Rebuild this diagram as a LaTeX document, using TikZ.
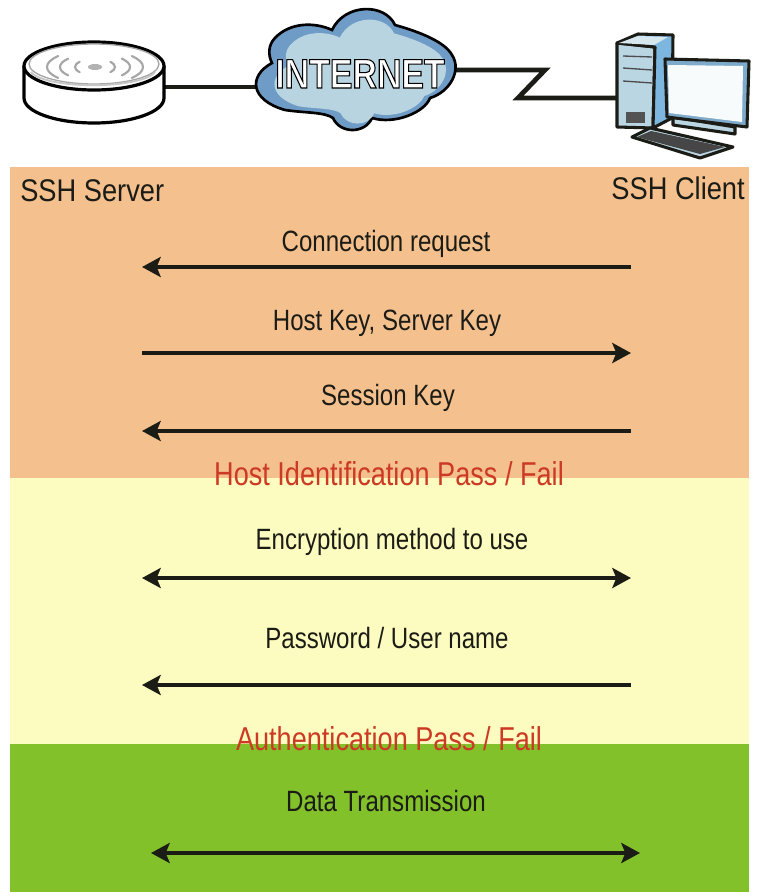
\documentclass[tikz,border=0pt]{standalone}
\usepackage{fontspec}
\setmainfont[FakeStretch=0.82]{Liberation Sans}
\newfontfamily\headfont[FakeStretch=0.87]{Liberation Sans}
\usetikzlibrary{arrows.meta}
\definecolor{bandorange}{HTML}{F4C08E}
\definecolor{bandyellow}{HTML}{FCFCC0}
\definecolor{bandgreen}{HTML}{82C12A}
\definecolor{cloudlight}{HTML}{B7D4E0}
\definecolor{clouddark}{HTML}{6F9CC6}
\definecolor{pcside}{HTML}{7DB6DE}
\definecolor{pcfront}{HTML}{BAD6E2}
\definecolor{alertred}{HTML}{CC3A24}
\definecolor{inkblack}{HTML}{1C1C16}
\newcommand{\cloudpath}{(272,63) .. controls (248,76) and (250,100) .. (285,110)
  .. controls (305,113) and (325,112) .. (333,118)
  .. controls (340,134) and (365,134) .. (372,118)
  .. controls (395,125) and (425,112) .. (430,98)
  .. controls (450,92) and (462,70) .. (452,55)
  .. controls (445,42) and (420,32) .. (395,25)
  .. controls (385,3) and (345,3) .. (332,30)
  .. controls (315,22) and (290,22) .. (275,38)
  .. controls (268,45) and (268,55) .. (272,63) -- cycle}
\tikzset{
  msg/.style={font=\fontsize{22}{24}\selectfont,text=inkblack,anchor=base,inner sep=0pt},
  head/.style={font=\headfont\fontsize{23.5}{26}\selectfont,text=inkblack,inner sep=0pt},
  alert/.style={font=\fontsize{24.8}{26}\selectfont,text=alertred,anchor=base,inner sep=0pt},
  wire/.style={line width=3.6pt,inkblack},
  flow/.style={line width=2.8pt,inkblack},
  tipL/.style={{Stealth[length=14pt,width=15pt,inset=3pt]}-},
  tipR/.style={-{Stealth[length=14pt,width=15pt,inset=3pt]}},
  tipB/.style={{Stealth[length=14pt,width=15pt,inset=3pt]}-{Stealth[length=14pt,width=15pt,inset=3pt]}},
  pcline/.style={line width=2.3pt,inkblack,line join=round},
  wave/.style={line width=1.6pt,gray!70,line cap=round},
}

\begin{document}
\begin{tikzpicture}[x=0.75pt,y=-0.75pt]
\useasboundingbox (0,0) rectangle (759,896);
% bands
\fill[bandorange] (10,167) rectangle (749,478);
\fill[bandyellow] (10,478) rectangle (749,744);
\fill[bandgreen] (10,744) rectangle (749,892);

% network on top
\coordinate (srv) at (164,87);
\coordinate (cl) at (258,87);
\coordinate (cr) at (455,70);
\coordinate (z1) at (545,70);
\coordinate (z2) at (518,98);
\coordinate (pc) at (618,98);
\draw[wire] (srv) -- (cl);
\draw[wire,line join=miter] (cr) -- (z1) -- (z2) -- (pc);

% server
\draw[line width=2.4pt,fill=white] (24,66) -- (24,98) arc[start angle=180,end angle=0,x radius=70,y radius=25] -- (164,66);
\draw[line width=2.4pt,fill=white] (94,66) ellipse[x radius=70,y radius=24];
\draw[line width=1pt,gray!70] (94,64) ellipse[x radius=65,y radius=20];
\draw[line width=1.4pt,gray!45] (31,72) arc[start angle=170,end angle=10,x radius=63,y radius=16];
\fill[gray!60] (95,67) ellipse[x radius=7,y radius=3];
\foreach \r/\h in {20/8,35/13,48/17}{
\draw[wave] ({95-\r*cos(40)},{67-\h*sin(40)}) arc[start angle=220,end angle=140,x radius=\r,y radius=\h];
\draw[wave] ({95+\r*cos(40)},{67-\h*sin(40)}) arc[start angle=-40,end angle=40,x radius=\r,y radius=\h];
}

% cloud
\draw[line width=2pt,fill=clouddark] \cloudpath;
\fill[cloudlight,shift={(357,72)},scale=0.86,shift={(-352,-70)}] \cloudpath;
\node[font=\bfseries\fontsize{31}{34}\selectfont,text=white,anchor=base,inner sep=0pt] (inet) at (360,88)
  {\special{pdf:code 2 Tr 0.8 w 0 0 0 RG 1 1 1 rg}INTERNET\special{pdf:code 0 Tr}};

% computer
\draw[pcline,fill=pcfront] (617,43) -- (655,47) -- (653,128) -- (617,127) -- cycle;
\draw[pcline,fill=pcside] (617,43) -- (638,34) -- (673,35) -- (672,118) -- (653,128) -- (655,47) -- cycle;
\fill[pcfront!60!white] (619,43) -- (638,36) -- (668,37) -- (654,45) -- cycle;
\draw[line width=1pt,gray!60!black] (623,56) -- (652,57);
\draw[line width=1pt,gray!60!black] (623,68) -- (652,70);
\draw[line width=1pt,gray!60!black] (623,81) -- (652,83);
\fill[gray!65!black] (626,112) rectangle (645,123);
\draw[pcline,fill=pcfront] (673,117) -- (735,127) -- (735,134) -- (673,125) -- cycle;
\draw[pcline,fill=pcside!80!gray] (665,59) -- (749,61) -- (747,127) -- (667,117) -- cycle;
\fill[white!90!pcfront] (668,65) -- (743,66) -- (742,122) -- (669,113) -- cycle;
\draw[pcline,fill=pcfront] (632,137) -- (650,128) -- (733,147) -- (700,158) -- cycle;
\fill[gray!55!black] (637,137) -- (651,131) -- (725,147) -- (700,154) -- cycle;

% labels
\node[head,anchor=base west] (srvlbl) at (20,201) {SSH Server};
\node[head,anchor=base east] (clilbl) at (745,199) {SSH Client};
\node[msg] (m1) at (386,251) {Connection request};
\node[msg] (m2) at (387,330) {Host Key, Server Key};
\node[msg] (m3) at (388,405) {Session Key};
\node[alert] (ok1) at (389,485) {Host Identification Pass / Fail};
\node[msg] (m4) at (392,549) {Encryption method to use};
\node[msg] (m5) at (387,648) {Password / User name};
\node[alert] (ok2) at (389,750) {Authentication Pass / Fail};
\node[msg] (m6) at (386,811) {Data Transmission};

% arrows
\foreach \n/\y in {1/267,2/353,3/431,4/578,5/685}{
\coordinate (s\n) at (142,\y);
\coordinate (c\n) at (631,\y);
}
\coordinate (s6) at (151,853);
\coordinate (c6) at (640,853);
\draw[flow,tipL] (s1) -- (c1);
\draw[flow,tipR] (s2) -- (c2);
\draw[flow,tipL] (s3) -- (c3);
\draw[flow,tipB] (s4) -- (c4);
\draw[flow,tipL] (s5) -- (c5);
\draw[flow,tipB] (s6) -- (c6);
\end{tikzpicture}
\end{document}
